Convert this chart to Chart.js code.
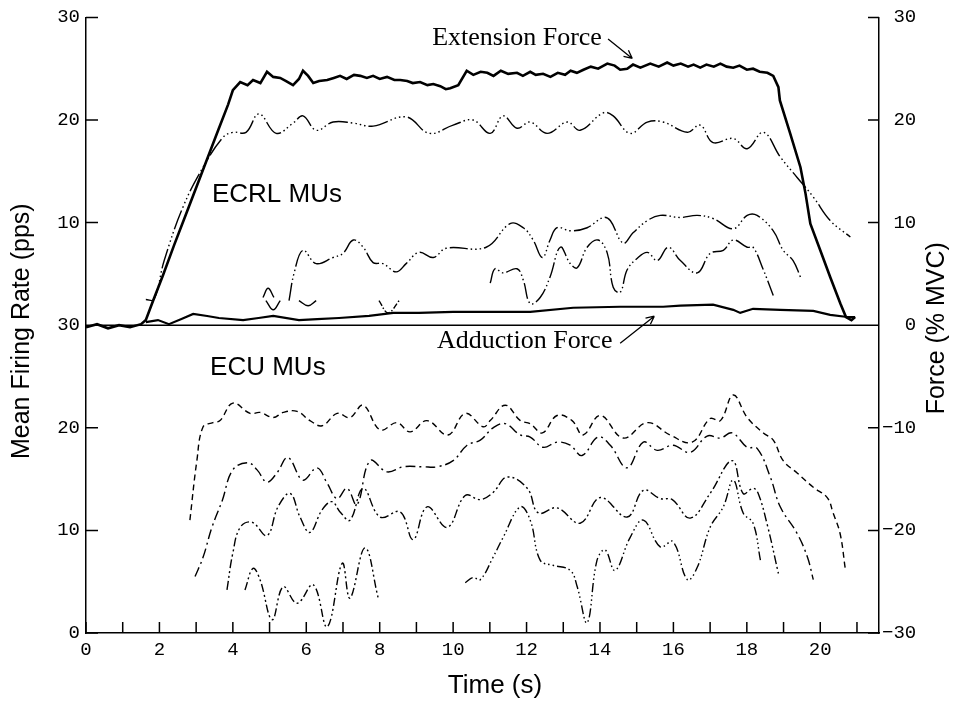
<!DOCTYPE html>
<html>
<head>
<meta charset="utf-8">
<script src="https://cdn.jsdelivr.net/npm/chart.js@4.4.1/dist/chart.umd.min.js"></script>
<style>
  html, body { margin: 0; padding: 0; background: #fff; }
  #wrap { width: 955px; height: 703px; }
</style>
</head>
<body>
<div id="wrap"><canvas id="muChart" width="955" height="703"></canvas></div>
<script>
// time axis (s) and force (% MVC)
const extTime = [0, 0.3, 0.6, 0.9, 1.2, 1.5, 1.63, 1.83, 2.1, 2.4, 2.7, 3.0, 3.3, 3.6, 3.87, 4.0, 4.2, 4.4, 4.55, 4.75,
  4.93, 5.1, 5.29, 5.45, 5.64, 5.8, 5.91, 6.05, 6.19, 6.35, 6.57, 6.75, 6.92, 7.1, 7.3, 7.47, 7.65, 7.82, 8.0, 8.2,
  8.4, 8.56, 8.75, 8.9, 9.1, 9.3, 9.46, 9.65, 9.8, 9.92, 10.14, 10.37, 10.55, 10.75, 10.93, 11.1, 11.3, 11.5, 11.74, 11.9,
  12.1, 12.25, 12.45, 12.65, 12.85, 13.05, 13.2, 13.37, 13.55, 13.75, 13.95, 14.2, 14.4, 14.55, 14.74, 14.9, 15.1, 15.37, 15.6, 15.83,
  16.0, 16.2, 16.4, 16.55, 16.73, 16.9, 17.1, 17.28, 17.45, 17.63, 17.8, 18.0, 18.17, 18.35, 18.56, 18.72, 18.86, 18.9, 19.18, 19.46,
  19.6, 19.73, 20.0, 20.27, 20.55, 20.7, 20.85, 20.95];
const extForce = [-0.2, 0.1, -0.3, 0.0, -0.2, 0.1, 0.5, 2.4, 4.9, 7.8, 10.6, 13.4, 16.2, 19.0, 21.5, 22.9, 23.7, 23.4, 23.9, 23.6,
  24.7, 24.2, 24.1, 23.8, 23.4, 24.0, 24.8, 24.3, 23.6, 23.8, 23.9, 24.1, 24.3, 24.0, 24.4, 24.3, 24.1, 24.3, 24.0, 24.2,
  23.9, 23.9, 23.8, 23.6, 23.7, 23.4, 23.5, 23.3, 23.0, 23.1, 23.4, 24.8, 24.4, 24.7, 24.6, 24.3, 24.8, 24.5, 24.6, 24.3,
  24.7, 24.4, 24.5, 24.2, 24.6, 24.4, 24.8, 24.6, 24.9, 25.2, 25.0, 25.5, 25.3, 24.9, 25.0, 25.4, 25.1, 25.5, 25.2, 25.6,
  25.3, 25.5, 25.2, 25.4, 25.1, 25.4, 25.2, 25.5, 25.2, 25.1, 25.3, 24.9, 25.0, 24.7, 24.6, 24.3, 23.2, 21.9, 18.7, 15.4,
  12.8, 9.9, 7.3, 4.7, 2.1, 0.8, 0.5, 0.8];

const addTime = [1.63, 1.96, 2.26, 2.6, 2.92, 3.3, 3.62, 4.28, 4.7, 5.1, 5.8, 6.3, 6.89, 7.71, 8.37, 9.07, 10.0, 10.74, 12.1, 13.27,
  14.55, 15.72, 16.19, 17.08, 17.63, 17.82, 18.17, 18.91, 19.81, 20.27, 20.74, 20.95];
const addForce = [0.3, 0.5, 0.1, 0.6, 1.1, 0.9, 0.7, 0.5, 0.7, 0.9, 0.5, 0.6, 0.7, 0.9, 1.2, 1.2, 1.3, 1.3, 1.3, 1.7,
  1.8, 1.8, 1.9, 2.0, 1.5, 1.2, 1.6, 1.5, 1.4, 1.0, 0.8, 0.8];

// ECRL motor units, firing rate (pps)
const ecrl1Time = [1.63, 1.85, 2.13, 2.64, 3.19, 3.73, 4.0, 4.36, 4.71, 5.18, 5.64, 5.91, 6.27, 6.73, 7.28, 7.82, 8.72, 9.35, 10.0, 10.54,
  11.01, 11.36, 11.74, 12.1, 12.56, 13.11, 13.46, 14.09, 14.36, 14.82, 15.29, 15.72, 16.38, 16.73, 17.08, 17.63, 18.01, 18.45, 18.91, 19.37,
  19.81, 20.27, 20.82];
const ecrl1Rate = [2.5, 2.5, 6.3, 11.5, 15.4, 18.3, 18.8, 18.8, 20.6, 18.7, 19.7, 20.4, 19.0, 19.8, 19.7, 19.4, 20.3, 18.7, 19.5, 20.0,
  18.7, 20.4, 19.2, 19.8, 18.7, 19.8, 19.0, 20.7, 20.4, 18.7, 19.8, 19.8, 18.8, 19.5, 17.8, 18.2, 17.2, 18.8, 16.4, 14.4,
  12.5, 10.2, 8.6];
const ecrl2Time = [5.53, 5.67, 5.91, 6.27, 6.73, 7.0, 7.28, 7.55, 7.82, 8.09, 8.45, 8.72, 9.07, 9.46, 9.81, 10.9, 11.55, 11.91, 12.18, 12.43,
  12.64, 12.83, 13.19, 13.65, 14.09, 14.28, 14.63, 14.9, 15.29, 15.64, 16.19, 16.65, 17.08, 17.63, 18.01, 18.28, 18.72, 18.99, 19.26, 19.46];
const ecrl2Rate = [2.4, 5.1, 7.3, 6.0, 6.6, 7.0, 8.3, 7.6, 6.1, 6.0, 5.2, 6.0, 7.1, 6.6, 7.5, 7.6, 9.9, 9.5, 8.3, 6.6,
  8.3, 9.5, 9.2, 9.5, 10.5, 10.2, 8.0, 9.0, 10.2, 10.7, 10.5, 10.7, 10.4, 9.4, 10.7, 10.7, 9.2, 7.3, 6.3, 4.7];
const ecrl3Time = [11.01, 11.14, 11.36, 11.74, 11.91, 12.1, 12.37, 12.64, 12.92, 13.19, 13.38, 13.65, 13.95, 14.2, 14.36, 14.55, 14.74, 15.01, 15.29, 15.56,
  15.86, 16.19, 16.65, 17.0, 17.36, 17.63, 18.01, 18.17, 18.45, 18.72];
const ecrl3Rate = [4.1, 5.5, 5.1, 5.5, 4.4, 2.1, 2.7, 4.7, 7.6, 6.0, 5.6, 7.6, 8.3, 7.0, 3.7, 3.2, 5.4, 6.5, 7.1, 6.3,
  7.6, 6.3, 5.1, 7.0, 7.3, 8.3, 7.6, 7.6, 5.4, 2.9];
const ecrl4Time = [4.82, 4.96, 5.12];
const ecrl4Rate = [2.7, 3.6, 2.7];
const ecrl5Time = [4.9, 5.1, 5.29];
const ecrl5Rate = [2.4, 1.5, 2.4];
const ecrl6Time = [5.8, 6.05, 6.27];
const ecrl6Rate = [2.4, 1.9, 2.4];
const ecrl7Time = [7.98, 8.23, 8.53];
const ecrl7Rate = [2.4, 1.2, 2.4];

// ECU motor units, firing rate (pps)
const ecu1Time = [2.83, 3.02, 3.19, 3.46, 3.65, 4.0, 4.47, 4.74, 5.1, 5.37, 5.75, 6.1, 6.43, 6.84, 7.19, 7.55, 8.01, 8.47, 8.83, 9.29,
  9.86, 10.33, 10.82, 11.01, 11.42, 11.83, 12.1, 12.43, 12.83, 13.24, 13.54, 14.01, 14.63, 15.29, 15.91, 16.51, 17.0, 17.28, 17.63, 18.01,
  18.45, 18.72, 18.99, 19.37, 19.81, 20.19, 20.35, 20.54, 20.68];
const ecu1Rate = [11.0, 16.8, 20.1, 20.5, 20.7, 22.4, 21.4, 21.5, 21.0, 21.5, 21.6, 20.7, 20.2, 21.4, 21.0, 22.2, 19.8, 20.5, 19.6, 20.7,
  19.3, 21.4, 20.1, 20.7, 22.2, 20.7, 20.4, 19.5, 21.2, 20.7, 19.3, 21.2, 19.0, 20.5, 19.3, 18.6, 20.9, 20.7, 23.2, 21.0,
  19.5, 18.8, 16.8, 15.6, 14.2, 13.2, 11.7, 9.7, 6.3];
const ecu2Time = [2.97, 3.19, 3.43, 3.71, 4.0, 4.41, 4.66, 4.93, 5.2, 5.5, 5.91, 6.29, 6.57, 6.84, 7.11, 7.38, 7.74, 8.2, 8.64, 9.18,
  9.56, 10.0, 10.38, 10.74, 11.09, 11.42, 11.83, 12.1, 12.45, 12.83, 13.19, 13.51, 13.95, 14.28, 14.74, 15.18, 15.56, 15.99, 16.46, 16.92,
  17.28, 17.6, 18.01, 18.28, 18.64, 18.91, 19.37, 19.65, 19.81];
const ecu2Rate = [5.5, 7.4, 10.3, 12.9, 15.9, 16.6, 15.9, 14.7, 15.6, 17.1, 14.9, 16.1, 14.6, 13.1, 14.1, 12.5, 16.8, 15.7, 16.2, 16.2,
  16.2, 16.8, 18.3, 18.8, 20.0, 20.4, 19.3, 19.1, 18.1, 18.6, 18.3, 17.3, 19.1, 18.3, 16.1, 18.6, 17.8, 18.3, 17.6, 19.2,
  19.0, 19.5, 18.1, 18.0, 15.2, 12.3, 9.7, 7.4, 5.2];
const ecu3Time = [3.84, 4.0, 4.2, 4.52, 4.93, 5.23, 5.56, 5.83, 6.1, 6.43, 6.7, 6.92, 7.19, 7.55, 8.01, 8.56, 8.91, 9.29, 9.84, 10.33,
  10.74, 11.09, 11.47, 12.02, 12.32, 12.83, 13.46, 14.01, 14.74, 15.18, 15.64, 15.97, 16.46, 17.0, 17.6, 17.9, 18.17, 18.31, 18.56, 18.86];
const ecu3Rate = [4.2, 7.8, 10.3, 10.8, 9.5, 12.3, 13.6, 11.3, 9.8, 12.0, 12.8, 11.8, 11.0, 14.1, 11.3, 11.8, 9.1, 12.3, 10.3, 13.4,
  13.0, 13.7, 15.2, 14.1, 11.7, 12.2, 10.7, 13.2, 11.3, 13.9, 13.1, 13.0, 11.2, 13.6, 16.8, 13.6, 14.1, 13.6, 10.5, 5.8];
const ecu4Time = [10.33, 10.54, 10.74, 11.09, 11.36, 11.83, 12.1, 12.37, 12.72, 13.19, 13.38, 13.65, 13.92, 14.14, 14.41, 14.82, 15.18, 15.64, 15.99, 16.38,
  16.65, 17.0, 17.36, 17.63, 17.9, 18.17, 18.37];
const ecu4Rate = [4.9, 5.4, 5.2, 7.4, 9.3, 12.3, 11.0, 7.1, 6.6, 6.1, 4.5, 1.0, 7.1, 8.1, 6.1, 9.3, 11.0, 8.4, 8.9, 5.2,
  6.4, 10.3, 12.3, 14.9, 11.7, 10.7, 7.1];
const ecu5Time = [4.33, 4.55, 4.74, 5.07, 5.37, 5.75, 6.19, 6.57, 6.98, 7.19, 7.6, 7.96];
const ecu5Rate = [4.2, 6.3, 5.2, 1.3, 4.5, 2.9, 4.7, 0.6, 6.8, 3.4, 8.3, 3.4];

// left axis: upper panel 0-30 (ECRL), lower panel 0-30 (ECU) share one -30..30 scale
const ECU_OFFSET = -30;

function pts(ts, vs, shift) {
    return ts.map((t, i) => ({ x: t, y: vs[i] + (shift || 0) }));
}

const mixDash = [20, 3, 1.5, 3, 1.5, 3, 1.5, 3, 1.5, 3];
function muLine(data, dash) {
    return {
        data: data,
        yAxisID: 'yR',
        borderColor: '#000',
        borderWidth: 1.4,
        borderDash: dash,
        pointRadius: 0,
        tension: 0.4,
        fill: false
    };
}
function forceLine(data, w) {
    return {
        data: data,
        yAxisID: 'yF',
        borderColor: '#000',
        borderWidth: w,
        pointRadius: 0,
        tension: 0,
        fill: false
    };
}

const monoFont = { family: '"Liberation Mono", "DejaVu Sans Mono", monospace', size: 19 };
const noGrid = { display: false, drawTicks: false, tickLength: 0 };

const figureMarks = {
    id: 'figureMarks',
    beforeDatasetsDraw(chart) {
        const { ctx, chartArea: a, scales: { yF } } = chart;
        ctx.save();
        ctx.strokeStyle = '#000';
        ctx.lineWidth = 1.5;
        ctx.beginPath();
        const y0 = yF.getPixelForValue(0);
        ctx.moveTo(a.left, y0);
        ctx.lineTo(a.right, y0);
        ctx.stroke();
        ctx.restore();
    },
    afterDraw(chart) {
        const { ctx, chartArea: a, scales: { x, yR, yF } } = chart;
        ctx.save();
        ctx.strokeStyle = '#000';
        ctx.fillStyle = '#000';
        ctx.lineWidth = 1.5;

        // inward tick marks
        ctx.beginPath();
        x.ticks.forEach(t => {
            const px = x.getPixelForValue(t.value);
            ctx.moveTo(px, a.bottom);
            ctx.lineTo(px, a.bottom - 11);
        });
        yR.ticks.forEach(t => {
            if (t.value === 0) return;
            const py = yR.getPixelForValue(t.value);
            ctx.moveTo(a.left, py);
            ctx.lineTo(a.left + 12, py);
        });
        yF.ticks.forEach(t => {
            if (t.value === 0) return;
            const py = yF.getPixelForValue(t.value);
            ctx.moveTo(a.right, py);
            ctx.lineTo(a.right - 11, py);
        });
        ctx.stroke();

        // text labels in the plot
        ctx.font = '26px "Liberation Sans", Arial, sans-serif';
        ctx.textBaseline = 'alphabetic';
        ctx.textAlign = 'left';
        ctx.fillText('ECRL MUs', x.getPixelForValue(3.43), yF.getPixelForValue(12.0));
        ctx.fillText('ECU MUs', x.getPixelForValue(3.38), yF.getPixelForValue(-4.87));

        ctx.font = '26px "Liberation Serif", "Times New Roman", serif';
        ctx.fillText('Extension Force', x.getPixelForValue(9.43), yF.getPixelForValue(27.3));
        ctx.fillText('Adduction Force', x.getPixelForValue(9.56), yF.getPixelForValue(-2.24));

        function arrow(t1, f1, t2, f2) {
            const x1 = x.getPixelForValue(t1), y1 = yF.getPixelForValue(f1);
            const x2 = x.getPixelForValue(t2), y2 = yF.getPixelForValue(f2);
            const ang = Math.atan2(y2 - y1, x2 - x1);
            ctx.lineWidth = 1.3;
            ctx.beginPath();
            ctx.moveTo(x1, y1);
            ctx.lineTo(x2, y2);
            ctx.moveTo(x2, y2);
            ctx.lineTo(x2 - 9 * Math.cos(ang - 0.45), y2 - 9 * Math.sin(ang - 0.45));
            ctx.moveTo(x2, y2);
            ctx.lineTo(x2 - 9 * Math.cos(ang + 0.45), y2 - 9 * Math.sin(ang + 0.45));
            ctx.stroke();
        }
        arrow(14.22, 27.9, 14.88, 26.0);
        arrow(14.55, -1.75, 15.48, 0.88);

        // axis titles
        ctx.font = '25px "Liberation Sans", Arial, sans-serif';
        ctx.textAlign = 'center';
        ctx.textBaseline = 'middle';
        ctx.save();
        ctx.translate(22, (a.top + a.bottom) / 2 + 6);
        ctx.rotate(-Math.PI / 2);
        ctx.fillText('Mean Firing Rate (pps)', 0, 0);
        ctx.restore();

        ctx.save();
        ctx.translate(chart.width - 18, (a.top + a.bottom) / 2 + 3);
        ctx.rotate(-Math.PI / 2);
        ctx.fillText('Force (% MVC)', 0, 0);
        ctx.restore();

        ctx.font = '26px "Liberation Sans", Arial, sans-serif';
        ctx.fillText('Time (s)', 495, 686);
        ctx.restore();
    }
};

const ctx = document.getElementById('muChart').getContext('2d');
const muChart = new Chart(ctx, {
    type: 'line',
    data: {
        datasets: [
            forceLine(pts(extTime, extForce), 2.6),
            forceLine(pts(addTime, addForce), 2.2),
            muLine(pts(ecrl1Time, ecrl1Rate), mixDash),
            muLine(pts(ecrl2Time, ecrl2Rate), [18, 3, 1.5, 3, 1.5, 3, 1.5, 3]),
            muLine(pts(ecrl3Time, ecrl3Rate), [16, 3, 1.5, 3, 1.5, 3]),
            muLine(pts(ecrl4Time, ecrl4Rate), []),
            muLine(pts(ecrl5Time, ecrl5Rate), []),
            muLine(pts(ecrl6Time, ecrl6Rate), []),
            muLine(pts(ecrl7Time, ecrl7Rate), [6, 2, 1.5, 2]),
            muLine(pts(ecu1Time, ecu1Rate, ECU_OFFSET), [6, 4]),
            muLine(pts(ecu2Time, ecu2Rate, ECU_OFFSET), [10, 4, 2, 4]),
            muLine(pts(ecu3Time, ecu3Rate, ECU_OFFSET), [9, 3, 2, 3, 2, 3]),
            muLine(pts(ecu4Time, ecu4Rate, ECU_OFFSET), [9, 3, 1.5, 3, 1.5, 3, 1.5, 3]),
            muLine(pts(ecu5Time, ecu5Rate, ECU_OFFSET), [8, 3, 2, 3, 2, 3])
        ]
    },
    options: {
        responsive: false,
        animation: false,
        devicePixelRatio: 1,
        layout: { padding: { top: 17, left: 0, right: 0, bottom: 0 } },
        plugins: {
            legend: { display: false },
            tooltip: { enabled: false }
        },
        scales: {
            x: {
                type: 'linear',
                min: 0,
                max: 21.6,
                grid: noGrid,
                border: { display: true, color: '#000', width: 1.5 },
                ticks: {
                    stepSize: 1,
                    includeBounds: false,
                    autoSkip: false,
                    maxRotation: 0,
                    padding: 6,
                    color: '#000',
                    font: monoFont,
                    callback: v => (v % 2 === 0 ? v : '')
                },
                afterFit: s => { s.height = 70; }
            },
            yR: {
                position: 'left',
                min: -30,
                max: 30,
                grid: noGrid,
                border: { display: true, color: '#000', width: 1.5 },
                ticks: {
                    stepSize: 10,
                    padding: 6,
                    color: '#000',
                    font: monoFont,
                    callback: v => (v > 0 ? v : v + 30)
                },
                afterFit: s => { s.width = 86; }
            },
            yF: {
                position: 'right',
                min: -30,
                max: 30,
                grid: noGrid,
                border: { display: true, color: '#000', width: 1.5 },
                ticks: {
                    stepSize: 10,
                    padding: 3,
                    crossAlign: 'near',
                    color: '#000',
                    font: monoFont,
                    // monospace labels padded so they line up on the right
                    callback: v => (v < 0 ? '\u2212' + (-v) : String(v)).padStart(3, ' ')
                },
                afterFit: s => { s.width = 76; }
            }
        }
    },
    plugins: [figureMarks]
});
</script>
</body>
</html>
